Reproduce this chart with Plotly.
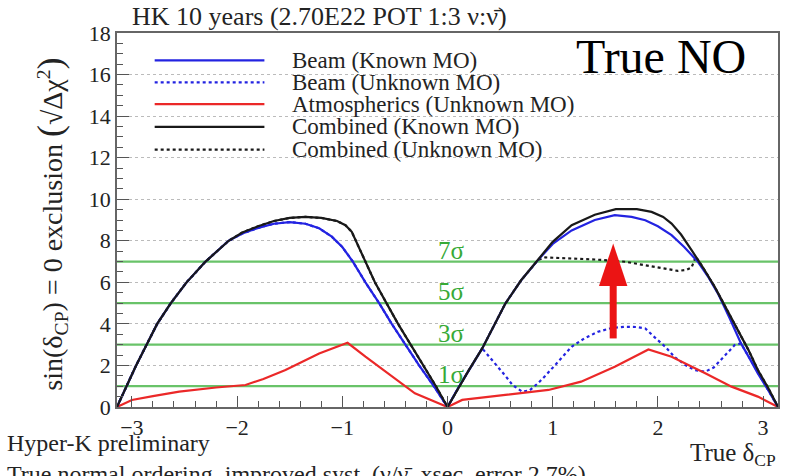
import math
import plotly.graph_objects as go

PI = math.pi

# ---- sensitivity curves: true delta_CP vs sqrt(delta chi^2) ----
beam_known_x = [-PI, -3.05, -2.96, -2.86, -2.76, -2.63, -2.48, -2.30, -2.08, -1.95, -1.80,
                -1.65, -1.50, -1.35, -1.22, -1.10, -1.00, -0.90, -0.78, -0.65, -0.53,
                -0.40, -0.27, -0.13, 0.0,
                0.10, 0.20, 0.33, 0.44, 0.55, 0.70, 0.86, 1.00, 1.18, 1.40, 1.59, 1.75,
                1.88, 2.00, 2.13, 2.25, 2.38, 2.48, 2.57, 2.68, 2.79, 2.87, 2.95, 3.05, PI]
beam_known_y = [0.0, 1.0, 2.0, 3.0, 4.0, 5.0, 6.0, 7.0, 8.0, 8.35, 8.62,
                8.82, 8.9, 8.82, 8.6, 8.2, 7.7, 7.0, 6.0, 5.0, 4.0,
                3.0, 2.0, 1.0, 0.0,
                0.9, 1.75, 2.82, 3.9, 4.98, 6.1, 7.07, 7.85, 8.5, 9.0, 9.23, 9.15,
                8.99, 8.7, 8.27, 7.7, 6.99, 6.25, 5.47, 4.3, 3.06, 2.35, 1.62, 0.8, 0.0]

beam_unknown_x = beam_known_x[:28] + [0.40, 0.48, 0.55, 0.62, 0.71, 0.78, 0.86, 0.93, 1.00,
                                      1.09, 1.18, 1.30, 1.43, 1.56, 1.69, 1.80, 1.88, 1.97,
                                      2.07, 2.16, 2.26, 2.35, 2.45, 2.53, 2.60, 2.67, 2.73,
                                      2.79, 2.87, 2.95, 3.05, PI]
beam_unknown_y = beam_known_y[:28] + [2.4, 1.94, 1.5, 1.05, 0.74, 0.8, 1.14, 1.5, 1.9,
                                      2.4, 2.9, 3.3, 3.62, 3.8, 3.86, 3.85, 3.78, 3.35,
                                      2.9, 2.4, 2.02, 1.78, 1.7, 1.9, 2.26, 2.65, 2.98,
                                      3.06, 2.35, 1.62, 0.8, 0.0]

atm_x = [-PI, -3.00, -2.80, -2.55, -2.20, -1.92, -1.75, -1.54, -1.22, -0.95, -0.78, -0.53,
         -0.31, 0.0,
         0.14, 0.55, 0.96, 1.27, 1.59, 1.91, 2.13, 2.45, 2.70, 2.95, PI]
atm_y = [0.0, 0.34, 0.52, 0.74, 0.94, 1.06, 1.35, 1.78, 2.58, 3.09, 2.42, 1.46,
         0.66, 0.0,
         0.34, 0.58, 0.82, 1.22, 1.94, 2.77, 2.42, 1.62, 0.98, 0.5, 0.0]

comb_known_x = [-PI, -3.05, -2.96, -2.86, -2.76, -2.63, -2.48, -2.30, -2.08, -1.95, -1.80,
                -1.65, -1.50, -1.35, -1.20, -1.05, -0.97, -0.91, -0.80, -0.69, -0.58,
                -0.47, -0.35, -0.23, -0.11, 0.0,
                0.10, 0.20, 0.33, 0.44, 0.55, 0.70, 0.86, 1.00, 1.18, 1.40, 1.60, 1.80,
                1.94, 2.05, 2.13, 2.22, 2.32, 2.43, 2.54, 2.65, 2.76, 2.86, 2.95, 3.05, PI]
comb_known_y = [0.0, 1.0, 2.0, 3.0, 4.0, 5.0, 6.0, 7.0, 8.0, 8.4, 8.7,
                8.95, 9.1, 9.15, 9.1, 8.95, 8.75, 8.43, 7.2, 6.0, 5.0,
                4.0, 3.0, 2.0, 1.0, 0.0,
                0.9, 1.75, 2.82, 3.9, 4.98, 6.1, 7.07, 7.95, 8.75, 9.25, 9.52, 9.52,
                9.39, 9.15, 8.83, 8.3, 7.55, 6.7, 5.78, 4.75, 3.7, 2.75, 1.78, 0.9, 0.0]

comb_unknown_x = comb_known_x[:33] + [0.93, 1.15, 1.40, 1.69, 1.85, 1.97, 2.10, 2.19, 2.27,
                                      2.32, 2.36, 2.43, 2.54, 2.65, 2.76, 2.86, 2.95,
                                      3.05, PI]
comb_unknown_y = comb_known_y[:33] + [7.2, 7.15, 7.1, 6.99, 6.85, 6.72, 6.6, 6.55, 6.6,
                                      6.72, 7.23, 6.7, 5.78, 4.75, 3.7, 2.75, 1.78,
                                      0.9, 0.0]

# significance reference levels
sigma_levels = [1, 3, 5, 7]
sigma_labels = ["1σ", "3σ", "5σ", "7σ"]

x_tick_vals = [-3, -2, -1, 0, 1, 2, 3]
y_tick_vals = [0, 2, 4, 6, 8, 10, 12, 14, 16, 18]

# arrow (data units)
arrow_x = 1.575
arrow_tail = 3.3
arrow_head_base = 5.82
arrow_tip = 7.87
arrow_half_width = 0.135

SERIF = "Liberation Serif"
BLUE = "rgb(35,35,225)"
RED = "rgb(235,40,40)"
BLACK = "rgb(25,25,25)"
GREEN_LINE = "rgb(105,195,105)"
GREEN_TEXT = "rgb(55,170,55)"
TEXT = "rgb(35,35,35)"

series = [
    ("Beam (Unknown MO)", beam_unknown_x, beam_unknown_y, BLUE, "dot"),
    ("Combined (Unknown MO)", comb_unknown_x, comb_unknown_y, BLACK, "dot"),
    ("Atmospherics (Unknown MO)", atm_x, atm_y, RED, "solid"),
    ("Beam (Known MO)", beam_known_x, beam_known_y, BLUE, "solid"),
    ("Combined (Known MO)", comb_known_x, comb_known_y, BLACK, "solid"),
]
legend_order = ["Beam (Known MO)", "Beam (Unknown MO)", "Atmospherics (Unknown MO)",
                "Combined (Known MO)", "Combined (Unknown MO)"]

fig = go.Figure()
for name, xs, ys, color, dash in series:
    fig.add_trace(go.Scatter(x=xs, y=ys, mode="lines", name=name,
                             line=dict(color=color, width=2.2, dash=dash),
                             showlegend=False, hoverinfo="skip"))

shapes = []
annotations = []

# white panels behind the legend block and the "True NO" tag
shapes.append(dict(type="rect", xref="paper", yref="paper", x0=0.003, x1=0.68,
                   y0=0.62, y1=0.995, fillcolor="white", line_width=0, layer="between"))
shapes.append(dict(type="rect", xref="paper", yref="paper", x0=0.68, x1=0.96,
                   y0=0.86, y1=0.995, fillcolor="white", line_width=0, layer="between"))

# sigma lines with labels
for lvl, lab in zip(sigma_levels, sigma_labels):
    shapes.append(dict(type="line", xref="paper", yref="y", x0=0, x1=1, y0=lvl, y1=lvl,
                       line=dict(color=GREEN_LINE, width=2.2), layer="between"))
    annotations.append(dict(x=-0.11, y=lvl, xref="x", yref="y", text=lab, showarrow=False,
                            xanchor="left", yanchor="bottom", yshift=-4,
                            font=dict(family=SERIF, size=25, color=GREEN_TEXT)))

# red arrow
shapes.append(dict(type="line", xref="x", yref="y", x0=arrow_x, x1=arrow_x,
                   y0=arrow_tail, y1=arrow_head_base + 0.1,
                   line=dict(color="rgb(235,20,20)", width=7)))
shapes.append(dict(type="path", xref="x", yref="y",
                   path=(f"M {arrow_x - arrow_half_width},{arrow_head_base} "
                         f"L {arrow_x + arrow_half_width},{arrow_head_base} "
                         f"L {arrow_x},{arrow_tip} Z"),
                   fillcolor="rgb(235,20,20)", line_width=0))

# legend block
leg_rows = [0.927, 0.868, 0.81, 0.749, 0.688]
style = {name: (color, dash) for name, _, _, color, dash in series}
for name, ry in zip(legend_order, leg_rows):
    color, dash = style[name]
    shapes.append(dict(type="line", xref="paper", yref="paper", x0=0.057, x1=0.223,
                       y0=ry, y1=ry, line=dict(color=color, width=2.2, dash=dash)))
    annotations.append(dict(x=0.261, y=ry, xref="paper", yref="paper", text=name,
                            showarrow=False, xanchor="left", yanchor="middle",
                            font=dict(family=SERIF, size=23, color=TEXT)))

# text labels
annotations += [
    dict(x=0.0196, y=1.045, xref="paper", yref="paper", xanchor="left", yanchor="middle",
         text="HK 10 years (2.70E22 POT 1:3 ν:ν̄)", showarrow=False,
         font=dict(family=SERIF, size=26, color=TEXT)),
    dict(x=0.8235, y=0.936, xref="paper", yref="paper", xanchor="center", yanchor="middle",
         text="True NO", showarrow=False, font=dict(family=SERIF, size=48, color="black")),
    dict(x=1.0, y=-0.128, xref="paper", yref="paper", xanchor="right", yanchor="middle",
         text="True δ<sub>CP</sub>", showarrow=False,
         font=dict(family=SERIF, size=25, color=TEXT)),
    dict(x=-0.1, y=0.49, xref="paper", yref="paper", xanchor="center", yanchor="middle",
         textangle=-90, showarrow=False,
         text=("sin(δ<sub>CP</sub>) = 0 exclusion "
               "<span style='font-size:36px'>(</span>√Δχ<sup>2</sup>"
               "<span style='font-size:36px'>)</span>"),
         font=dict(family=SERIF, size=28, color=TEXT)),
    dict(x=-0.169, y=-0.096, xref="paper", yref="paper", xanchor="left", yanchor="middle",
         text="Hyper-K preliminary", showarrow=False,
         font=dict(family=SERIF, size=24, color=TEXT)),
    dict(x=-0.169, y=-0.178, xref="paper", yref="paper", xanchor="left", yanchor="middle",
         text="True normal ordering, improved syst. (ν/ν̄, xsec. error 2.7%)", showarrow=False,
         font=dict(family=SERIF, size=24, color=TEXT)),
]

fig.update_layout(
    width=791, height=476,
    margin=dict(l=117, r=11, t=33, b=69),
    paper_bgcolor="white", plot_bgcolor="white",
    showlegend=False,
    shapes=shapes, annotations=annotations,
    xaxis=dict(range=[-PI, PI], tickvals=x_tick_vals, ticks="inside", ticklen=11,
               tickcolor="#555", tickwidth=1, showline=True, linecolor="#666",
               linewidth=1.5, mirror=True, showgrid=False, zeroline=False,
               tickfont=dict(family=SERIF, size=22, color=TEXT),
               minor=dict(dtick=0.2, tick0=0, ticks="inside", ticklen=6, tickcolor="#555")),
    yaxis=dict(range=[0, 18], tickvals=y_tick_vals, ticks="inside", ticklen=12,
               tickcolor="#555", tickwidth=1, showline=True, linecolor="#666",
               linewidth=1.5, mirror=True, showgrid=True, gridcolor="#bbb",
               griddash="dot", gridwidth=1, zeroline=False,
               tickfont=dict(family=SERIF, size=22, color=TEXT),
               minor=dict(dtick=0.5, tick0=0, ticks="inside", ticklen=6, tickcolor="#555",
                          showgrid=False)),
)

fig.write_html("out.html")
